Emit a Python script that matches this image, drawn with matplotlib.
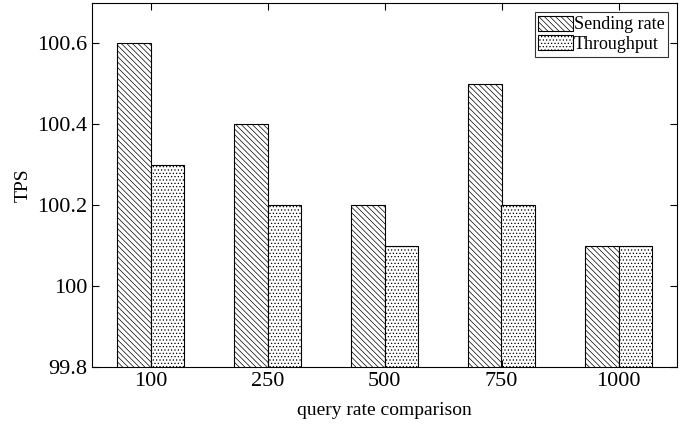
import matplotlib.pyplot as plt
import numpy as np

plt.rcParams['font.family'] = 'Liberation Serif'
plt.rcParams['hatch.linewidth'] = 0.5

categories = ['100', '250', '500', '750', '1000']
sending_rate = [100.6, 100.4, 100.2, 100.5, 100.1]
throughput = [100.3, 100.2, 100.1, 100.2, 100.1]

fig = plt.figure(figsize=(6.95, 4.33), dpi=100)
ax = fig.add_axes([92 / 695, 1 - 367 / 433, 585 / 695, 364 / 433])

x = np.arange(1, len(categories) + 1)
w = 0.29
ax.bar(x - w / 2, sending_rate, w, color='white', edgecolor='black',
       hatch='\\' * 6, linewidth=0.8, label='Sending rate')
ax.bar(x + w / 2, throughput, w, color='white', edgecolor='black',
       hatch='.' * 5, linewidth=0.8, label='Throughput')

ax.set_xlim(0.5, 5.5)
ax.set_ylim(99.8, 100.7)
ax.set_xticks(x)
ax.set_xticklabels(categories)
ax.set_yticks([99.8, 100.0, 100.2, 100.4, 100.6])
ax.set_yticklabels(['99.8', '100', '100.2', '100.4', '100.6'])
ax.tick_params(direction='in', top=True, right=True, labelsize=16, length=5, width=0.8)
for s in ax.spines.values():
    s.set_linewidth(0.8)

ax.set_xlabel('query rate comparison', fontsize=14, labelpad=8)
ax.set_ylabel('TPS', fontsize=14, labelpad=4)

leg = ax.legend(loc='upper right', fontsize=13, fancybox=False, edgecolor='black',
                handlelength=1.9, handleheight=0.9, handletextpad=0.05,
                borderpad=0.2, labelspacing=0.1, borderaxespad=0.5)
leg.get_frame().set_linewidth(0.8)

fig.savefig('out.png', dpi=100)
